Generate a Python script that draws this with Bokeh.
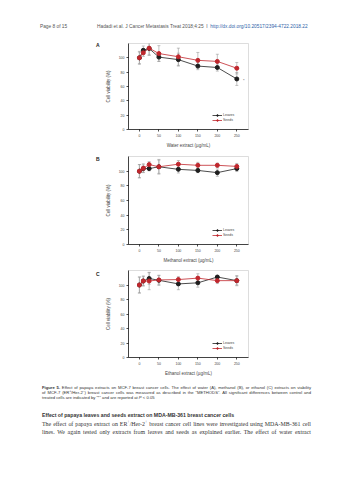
from bokeh.plotting import figure
from bokeh.models import (Range1d, ColumnDataSource, Whisker, TeeHead, FixedTicker,
                          Legend, LegendItem, Div)
from bokeh.layouts import column, row
from bokeh.embed import file_html
from bokeh.resources import INLINE
from bokeh.core.properties import value

# ---------------- data ----------------
conc = [0, 10, 25, 50, 100, 150, 200, 250]
x_ticks = [0, 50, 100, 150, 200, 250]
y_ticks = [0, 20, 40, 60, 80, 100]

water_leaves = [100, 110.5, 113, 101, 97.5, 88.5, 86.5, 70.5]
water_leaves_err = [8, 6, 9, 6, 9, 5, 5, 9]
water_seeds = [100, 107, 113.5, 106, 101.5, 96.5, 95, 85.5]
water_seeds_err = [9, 5, 10, 11, 12, 11, 10, 8]

meth_leaves = [100, 103.5, 103.5, 106, 102.5, 101, 98, 103.5]
meth_leaves_err = [9, 5, 3, 10, 5, 3, 5, 4]
meth_seeds = [100, 104, 109, 106, 109.5, 108, 108, 106.5]
meth_seeds_err = [9, 6, 4, 9, 5, 4, 3, 4]

eth_leaves = [100, 105.5, 109, 106.5, 101.5, 103, 111, 106]
eth_leaves_err = [11, 6, 8, 7, 8, 6, 2, 7]
eth_seeds = [100, 105.5, 105.5, 107, 107.5, 109.5, 106, 106]
eth_seeds_err = [11, 7, 12, 6, 4, 6, 4, 6]

series_labels = ["Leaves", "Seeds"]
panel_letters = ["A", "B", "C"]
x_labels = ["Water extract (\u00b5g/mL)", "Methanol extract (\u00b5g/mL)", "Ethanol extract (\u00b5g/mL)"]
y_label = "Cell viability (%)"

header_left = "Page 8 of 15"
header_mid = "Hadadi et al. J Cancer Metastasis Treat 2018;4:25&nbsp;&nbsp;I&nbsp;&nbsp;"
header_link = "http://dx.doi.org/10.20517/2394-4722.2018.22"

caption_bold = "Figure 5."
caption_lines = [
    "Effect of papaya extracts on MCF-7 breast cancer cells. The effect of water (A), methanol (B), or ethanol (C) extracts on viability",
    "of MCF-7 (ER<sup>+</sup>/Her-2<sup>&minus;</sup>) breast cancer cells was measured as described in the \u201cMETHODS\u201d. All significant differences between control and",
    "treated cells are indicated by \u201c*\u201d and are reported at <i>P</i> &lt; 0.05",
]
heading = "Effect of papaya leaves and seeds extract on MDA-MB-361 breast cancer cells"
para_lines = [
    "The effect of papaya extract on ER<sup>+</sup>/Her-2<sup>+</sup> breast cancer cell lines were investigated using MDA-MB-361 cell",
    "lines. We again tested only extracts from leaves and seeds as explained earlier. The effect of water extract",
]

SANS = "Liberation Sans"
SERIF = "Liberation Serif"
BLACK = "#1e1e1e"
RED = "#c0272d"
ERR = "#9a9a9a"
LEFT_W = 102


def panel(xlabel, leaves, leaves_err, seeds, seeds_err, height, top, bottom, star=False):
    p = figure(width=353 - LEFT_W, height=height, x_range=Range1d(-28, 280), y_range=Range1d(0, 120),
               output_backend="svg", toolbar_location=None,
               min_border_left=120 - LEFT_W, min_border_right=105,
               min_border_top=top, min_border_bottom=bottom)
    p.title.visible = False
    p.grid.visible = False
    p.outline_line_color = "#cfcfcf"
    p.outline_line_width = 0.7
    p.xaxis.ticker = FixedTicker(ticks=x_ticks)
    p.yaxis.ticker = FixedTicker(ticks=y_ticks)
    p.axis.major_tick_out = 2
    p.axis.major_tick_in = 0
    p.axis.minor_tick_out = 0
    p.axis.minor_tick_in = 0
    p.axis.axis_line_width = 0.7
    p.axis.major_tick_line_width = 0.7
    p.axis.major_label_text_font = SANS
    p.axis.major_label_text_font_size = "3.5px"
    p.axis.major_label_standoff = 2
    p.axis.axis_label_text_font = SANS
    p.axis.axis_label_text_font_size = "4.5px"
    p.axis.axis_label_text_font_style = "normal"
    p.xaxis.axis_label_standoff = 3
    p.yaxis.axis_label_standoff = 5
    p.xaxis.axis_label = xlabel
    p.yaxis.axis_label = y_label

    for vals, errs in ((leaves, leaves_err), (seeds, seeds_err)):
        src = ColumnDataSource(dict(x=conc,
                                    upper=[v + e for v, e in zip(vals, errs)],
                                    lower=[v - e for v, e in zip(vals, errs)]))
        p.add_layout(Whisker(source=src, base="x", upper="upper", lower="lower",
                             line_color=ERR, line_width=0.6,
                             upper_head=TeeHead(size=3, line_color=ERR, line_width=0.6),
                             lower_head=TeeHead(size=3, line_color=ERR, line_width=0.6)))
    renderers = []
    for vals, col in ((leaves, BLACK), (seeds, RED)):
        src = ColumnDataSource(dict(x=conc, y=vals))
        ln = p.line("x", "y", source=src, line_color=col, line_width=0.8)
        sc = p.scatter("x", "y", source=src, size=4, fill_color=col, line_color=col)
        renderers.append([ln, sc])

    if star:
        p.text(x=[conc[-1]], y=[leaves[-1]], text=["*"], x_offset=7, y_offset=2,
               text_font=value(SANS), text_font_size=value("4px"), text_color="#555555",
               text_align="center", text_baseline="middle")

    legend = Legend(items=[LegendItem(label=series_labels[0], renderers=renderers[0]),
                           LegendItem(label=series_labels[1], renderers=renderers[1])],
                    location=(84, 7), glyph_width=10, glyph_height=4, label_height=4,
                    label_width=10, spacing=1, padding=0, margin=0, label_standoff=1,
                    label_text_font=SANS, label_text_font_size="3.5px",
                    border_line_alpha=0, background_fill_alpha=0)
    p.add_layout(legend)
    return p


def letter_div(letter, height, top):
    html = (f'<div style="position:relative;width:{LEFT_W}px;height:{height}px;">'
            f'<span style="position:absolute;left:96px;top:{top}px;font-family:\'{SANS}\';'
            f'font-weight:bold;font-size:5px;line-height:5px;color:#222;">{letter}</span></div>')
    return Div(text=html, width=LEFT_W, height=height, margin=0)


# header
hdr_html = (f'<div style="position:relative;width:353px;height:35px;font-family:\'{SANS}\';'
            f'font-size:4.8px;line-height:4.8px;color:#555;white-space:nowrap;">'
            f'<span style="position:absolute;left:40px;top:24.6px;">{header_left}</span>'
            f'<span style="position:absolute;left:97px;top:24.6px;">{header_mid}'
            f'<span style="color:#2f5fa8;">{header_link}</span></span></div>')
hdr = Div(text=hdr_html, width=353, height=35, margin=0)

pA = panel(x_labels[0], water_leaves, water_leaves_err, water_seeds, water_seeds_err,
           115, 8, 17, star=True)
pB = panel(x_labels[1], meth_leaves, meth_leaves_err, meth_seeds, meth_seeds_err,
           115, 6, 19)
pC = panel(x_labels[2], eth_leaves, eth_leaves_err, eth_seeds, eth_seeds_err,
           113, 5, 18)

rA = row(letter_div(panel_letters[0], 115, 8), pA, spacing=0)
rB = row(letter_div(panel_letters[1], 115, 7), pB, spacing=0)
rC = row(letter_div(panel_letters[2], 113, 7), pC, spacing=0)


def line_div(content, top, size, family, justify=True, bold=False, lh=None):
    lh = lh or size
    style = (f"position:absolute;left:42px;top:{top}px;width:269px;font-family:'{family}';"
             f"font-size:{size}px;line-height:{lh}px;color:#333;white-space:nowrap;"
             + ("text-align:justify;text-align-last:justify;white-space:normal;" if justify else "")
             + ("font-weight:bold;" if bold else ""))
    return f'<div style="{style}">{content}</div>'


sup = "<style>sup{font-size:70%;line-height:0;vertical-align:super;}</style>"
body = sup + '<div style="position:relative;width:353px;height:102px;">'
body += line_div(f"<b>{caption_bold}</b> {caption_lines[0]}", 7.5, 4.2, SANS)
body += line_div(caption_lines[1], 12.5, 4.2, SANS)
body += line_div(caption_lines[2], 17.5, 4.2, SANS, justify=False)
body += line_div(heading, 35, 5.2, SANS, justify=False, bold=True)
body += line_div(para_lines[0], 43.5, 5.9, SERIF)
body += line_div(para_lines[1], 51.5, 5.9, SERIF)
body += "</div>"
txt = Div(text=body, width=353, height=102, margin=0)

page = column(hdr, rA, rB, rC, txt, spacing=0)
open("out.html", "w").write(file_html(page, INLINE))
